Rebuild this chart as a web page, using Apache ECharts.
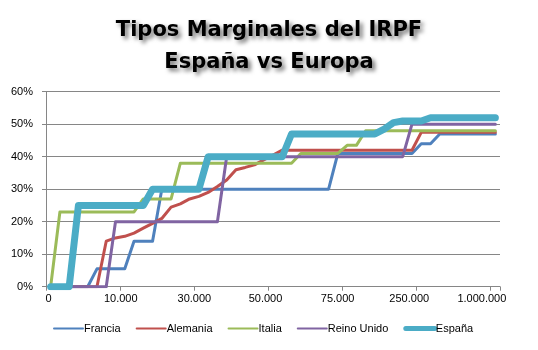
<!DOCTYPE html>
<html>
<head>
<meta charset="utf-8">
<script src="https://cdn.jsdelivr.net/npm/echarts@6/dist/echarts.min.js"></script>
<style>
html,body{margin:0;padding:0;background:#fff;}
#chart{width:538px;height:350px;}
</style>
</head>
<body>
<div id="chart"></div>
<script>
// Income categories (euros)
const categories = [
  0,1250,2500,3750,5000,6250,7500,8750,
  10000,12500,15000,17500,20000,22500,25000,27500,
  30000,32500,35000,37500,40000,42500,45000,47500,
  50000,53000,56000,59000,62000,65000,68000,71000,
  75000,95000,115000,140000,165000,190000,215000,235000,
  250000,350000,450000,550000,650000,750000,850000,950000,
  1000000
];
// Marginal rates (%)
const francia = [
  0,0,0,0,0,5.5,5.5,5.5,5.5,14,14,14,
  30,30,30,30,30,30,30,30,30,30,30,30,30,30,30,30,30,30,30,
  41,41,41,41,41,41,41,41,41,44,44,
  47,47,47,47,47,47,47
];
const alemania = [
  0,0,0,0,0,0,14,15,15.5,16.5,18,19.5,21,24.5,25.5,27,27.8,29,30.8,32.8,36,36.7,37.5,39,40.5,
  42,42,42,42,42,42,42,42,42,42,42,42,42,42,42,
  47.5,47.5,47.5,47.5,47.5,47.5,47.5,47.5,47.5
];
const italia = [
  0,23,23,23,23,23,23,23,23,23,27,27,27,27,
  38,38,38,38,38,38,38,38,38,38,38,38,38,
  41,41,41,41,41,43.5,43.5,
  48,48,48,48,48,48,48,48,48,48,48,48,48,48,48
];
const reinoUnido = [
  0,0,0,0,0,0,0,
  20,20,20,20,20,20,20,20,20,20,20,20,
  40,40,40,40,40,40,40,40,40,40,40,40,40,40,40,40,40,40,40,40,
  50,50,50,50,50,50,50,50,50,50
];
const espana = [
  0,0,0,25,25,25,25,25,25,25,25,
  30,30,30,30,30,30,
  40,40,40,40,40,40,40,40,40,
  47,47,47,47,47,47,47,47,47,47,
  48.5,50.5,51,51,51,
  52,52,52,52,52,52,52,52
];
const yTicks = [0,10,20,30,40,50,60];

const fmtThousands = v => String(v).replace(/\B(?=(\d{3})+(?!\d))/g, '.');
const labelShift = [4, 8, 9, 15, 19, 24, 27];
const rich = {};
labelShift.forEach((p, k) => {
  rich['s' + k] = {padding:[0, p, 0, 0], fontFamily:'Liberation Sans', fontSize:11, color:'#000'};
});

const chart = echarts.init(document.getElementById('chart'), null, {renderer:'canvas'});
const baseFont = 'Liberation Sans';
const mk = (name, data, color, width) => ({
  name, type:'line', data, symbol:'none', showSymbol:false, animation:false,
  lineStyle:{color, width, cap:'round', join:'round'},
  itemStyle:{color}
});
chart.setOption({
  animation:false,
  backgroundColor:'#ffffff',
  title:{
    text:'Tipos Marginales del IRPF\nEspaña vs Europa',
    left:'center', top:10,
    textStyle:{
      fontFamily:'DejaVu Sans', fontWeight:'bold', fontSize:21, lineHeight:32,
      color:'#000',
      textShadowColor:'rgba(0,0,0,0.55)', textShadowBlur:4,
      textShadowOffsetX:3, textShadowOffsetY:3
    }
  },
  grid:{left:46, right:38, top:91.7, bottom:63.3, containLabel:false},
  legend:{
    bottom:16, left:53, padding:0, itemWidth:29, itemHeight:8, itemGap:15,
    itemStyle:{opacity:0},
    textStyle:{fontFamily:baseFont, fontSize:11, color:'#000', padding:[0,0,0,-4]},
    data:[
      {name:'Francia'},{name:'Alemania'},{name:'Italia'},{name:'Reino Unido'},
      {name:'España', lineStyle:{width:5}}
    ]
  },
  xAxis:{
    type:'category', data:categories, boundaryGap:true,
    axisLine:{lineStyle:{color:'#868686', width:1}},
    axisTick:{show:true, interval:7, length:4, lineStyle:{color:'#868686'}},
    axisLabel:{interval:7, margin:7, color:'#000', fontFamily:baseFont, fontSize:11,
      rich,
      formatter:(v, idx) => '{s' + Math.round(idx / 8) + '|' + fmtThousands(v) + '}'},
    splitLine:{show:false}
  },
  yAxis:{
    type:'value', min:yTicks[0], max:yTicks[yTicks.length-1], interval:10,
    axisLine:{show:true, lineStyle:{color:'#868686'}},
    axisTick:{show:true, length:4, lineStyle:{color:'#868686'}},
    axisLabel:{margin:13, color:'#000', fontFamily:baseFont, fontSize:11, formatter:'{value}%'},
    splitLine:{show:true, lineStyle:{color:'#868686', width:1}}
  },
  series:[
    mk('Francia', francia, '#4F81BD', 3),
    mk('Alemania', alemania, '#C0504D', 3),
    mk('Italia', italia, '#9BBB59', 3),
    mk('Reino Unido', reinoUnido, '#8064A2', 3),
    mk('España', espana, '#4BACC6', 7)
  ]
});
</script>
</body>
</html>
